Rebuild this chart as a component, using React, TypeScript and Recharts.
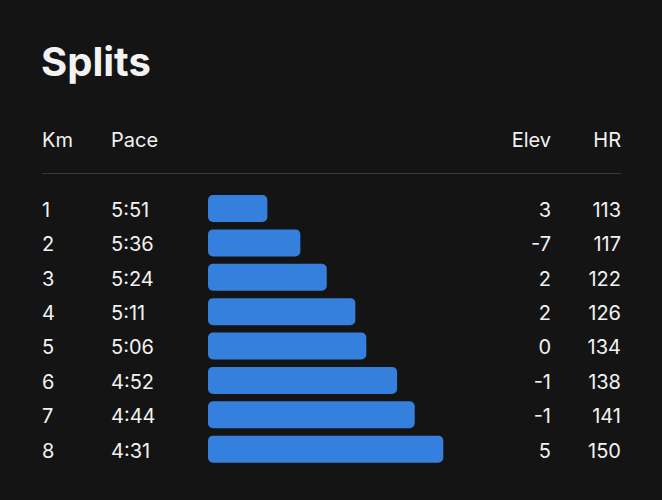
import React from 'react';
import { BarChart, Bar, XAxis, YAxis } from 'recharts';

const KM = ['1', '2', '3', '4', '5', '6', '7', '8'];
const PACE = ['5:51', '5:36', '5:24', '5:11', '5:06', '4:52', '4:44', '4:31'];
const ELEV = [3, -7, 2, 2, 0, -1, -1, 5];
const HR = [113, 117, 122, 126, 134, 138, 141, 150];

// bars grow as the pace gets faster, measured from this slow reference pace (s/km)
const SLOW_PACE = 378;

const toSeconds = (p: string) => {
  const [m, s] = p.split(':').map(Number);
  return m * 60 + s;
};

const data = KM.map((km, i) => ({
  km,
  pace: PACE[i],
  elev: ELEV[i],
  hr: HR[i],
  bar: SLOW_PACE - toSeconds(PACE[i]),
}));

const TEXT = '#f2f2f2';
const FONT = 'Inter, "Noto Sans", sans-serif';

const RowTick = (props: any) => {
  const { y, index } = props;
  const row = data[index];
  if (!row) return null;
  const common = { y, dy: '0.44em', fill: TEXT, fontSize: 20, fontFamily: FONT };
  return (
    <g>
      <text {...common} x={42} textAnchor="start">{row.km}</text>
      <text {...common} x={111} textAnchor="start">{row.pace}</text>
      <text {...common} x={551} textAnchor="end">{row.elev}</text>
      <text {...common} x={621} textAnchor="end">{row.hr}</text>
    </g>
  );
};

const App: React.FC = () => {
  return (
    <div
      style={{
        position: 'absolute',
        left: 0,
        top: 0,
        width: 662,
        height: 500,
        background: '#141414',
        fontFamily: FONT,
      }}
    >
      <svg width={662} height={500} style={{ position: 'absolute', left: 0, top: 0 }}>
        <text x={41} y={76} fill={TEXT} fontSize={40} fontWeight={700} fontFamily={FONT}>
          Splits
        </text>
        <text x={42} y={147} fill={TEXT} fontSize={20} fontFamily={FONT}>Km</text>
        <text x={111} y={147} fill={TEXT} fontSize={20} fontFamily={FONT}>Pace</text>
        <text x={551} y={147} fill={TEXT} fontSize={20} fontFamily={FONT} textAnchor="end">Elev</text>
        <text x={621} y={147} fill={TEXT} fontSize={20} fontFamily={FONT} textAnchor="end">HR</text>
        <line x1={42} x2={621} y1={173.5} y2={173.5} stroke="#383838" strokeWidth={1} />
      </svg>
      <div style={{ position: 'absolute', left: 0, top: 0 }}>
        <BarChart
          width={662}
          height={500}
          layout="vertical"
          data={data}
          margin={{ top: 191, right: 56, bottom: 34, left: 0 }}
        >
          <XAxis type="number" domain={[0, 181]} hide />
          <YAxis
            type="category"
            dataKey="km"
            width={208}
            axisLine={false}
            tickLine={false}
            tick={<RowTick />}
          />
          <Bar dataKey="bar" fill="#3580dd" barSize={27} radius={5} isAnimationActive={false} />
        </BarChart>
      </div>
    </div>
  );
};

export default App;
